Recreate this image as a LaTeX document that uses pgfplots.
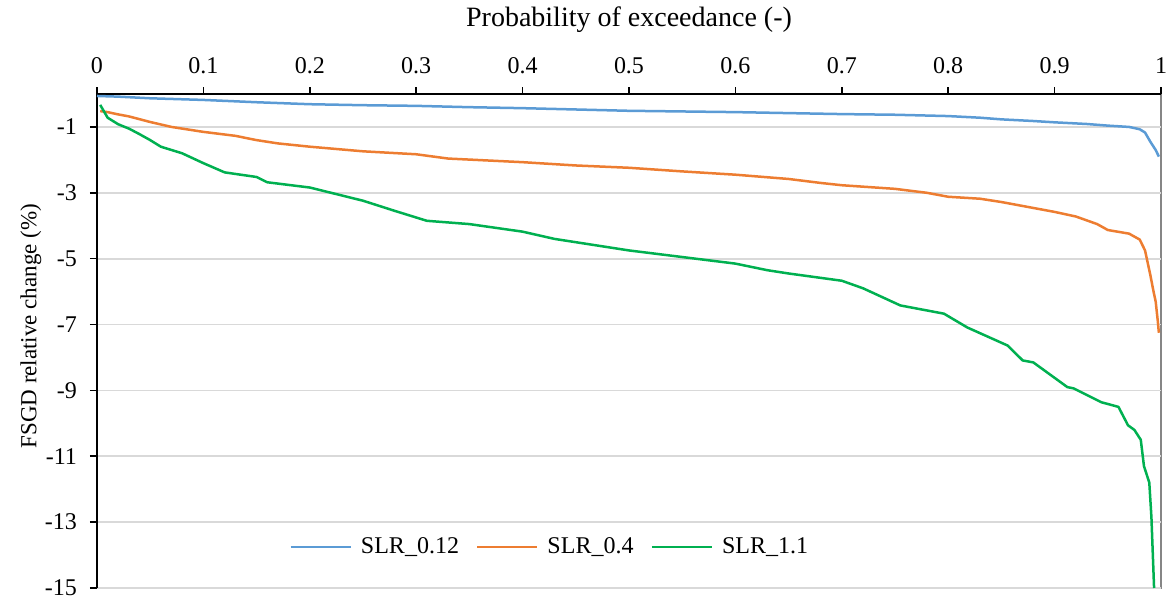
\documentclass[border=0pt]{standalone}
\usepackage{fontspec}
\setmainfont{Liberation Serif}
\usepackage{pgfplots}
\pgfplotsset{compat=1.18}

\definecolor{slrblue}{RGB}{91,155,213}
\definecolor{slrorange}{RGB}{237,125,49}
\definecolor{slrgreen}{RGB}{0,176,80}
\definecolor{gridgray}{RGB}{217,217,217}
\definecolor{framegray}{RGB}{134,134,134}

\begin{document}
\begin{tikzpicture}
% right and bottom edges of the plot area
\draw[framegray, line width=0.9pt] (532pt,247pt) -- (532pt,0pt) -- (0pt,0pt);
\begin{axis}[
  at={(0pt,0pt)}, anchor=south west,
  scale only axis, width=532pt, height=247pt,
  xmin=0, xmax=1, ymin=-15, ymax=0,
  axis x line*=top, axis y line*=left,
  x axis line style={-, black, line width=0.8pt},
  y axis line style={-, black, line width=0.8pt},
  xtick={0,0.1,0.2,0.3,0.4,0.5,0.6,0.7,0.8,0.9,1},
  xticklabels={0,0.1,0.2,0.3,0.4,0.5,0.6,0.7,0.8,0.9,1},
  ytick={-1,-3,-5,-7,-9,-11,-13,-15},
  yticklabels={-1,-3,-5,-7,-9,-11,-13,-15},
  tick align=outside,
  major tick length=3.5pt,
  tick style={black, line width=0.8pt},
  ymajorgrids, grid style={gridgray, line width=0.9pt},
  tick label style={font=\fontsize{12}{14}\selectfont},
  xticklabel style={yshift=3pt},
  yticklabel style={anchor=east, xshift=-3pt},
  xlabel={Probability of exceedance (-)},
  ylabel={FSGD relative change (\%)},
  every axis x label/.style={at={(axis description cs:0.5,1)}, anchor=center,
    yshift=37pt, font=\fontsize{14}{16}\selectfont},
  every axis y label/.style={at={([xshift=-33pt]axis description cs:0,0.53)},
    rotate=90, anchor=center, font=\fontsize{11.5}{14}\selectfont},
  legend style={at={(0.426,0.083)}, anchor=center, draw=none, fill=none,
    font=\fontsize{12}{14}\selectfont, nodes={inner sep=1.5pt}},
  legend columns=3,
  legend cell align=left,
  /tikz/every odd column/.append style={column sep=3pt},
  /tikz/every even column/.append style={column sep=7pt},
  legend image code/.code={\draw[#1] (0pt,0pt) -- (30pt,0pt);},
  every axis plot/.append style={line width=1.25pt, line join=round},
]
\addplot[slrblue] coordinates {
(0.000,-0.06) (0.020,-0.08) (0.050,-0.13) (0.100,-0.18) (0.150,-0.25)
(0.200,-0.31) (0.250,-0.34) (0.300,-0.36) (0.350,-0.40) (0.400,-0.43)
(0.450,-0.47) (0.500,-0.51) (0.550,-0.53) (0.600,-0.55) (0.650,-0.58)
(0.700,-0.61) (0.750,-0.63) (0.800,-0.67) (0.830,-0.72) (0.850,-0.77)
(0.880,-0.82) (0.900,-0.86) (0.930,-0.91) (0.950,-0.96) (0.970,-1.00)
(0.980,-1.07) (0.985,-1.17) (0.990,-1.45) (0.995,-1.70) (0.998,-1.90)
};
\addlegendentry{SLR\_0.12}
\addplot[slrorange] coordinates {
(0.003,-0.52) (0.010,-0.55) (0.020,-0.62) (0.030,-0.68) (0.050,-0.85)
(0.070,-1.00) (0.100,-1.15) (0.130,-1.27) (0.150,-1.40) (0.170,-1.50)
(0.200,-1.60) (0.250,-1.74) (0.300,-1.83) (0.330,-1.96) (0.400,-2.07)
(0.450,-2.17) (0.500,-2.24) (0.550,-2.35) (0.600,-2.45) (0.650,-2.58)
(0.680,-2.70) (0.700,-2.77) (0.750,-2.88) (0.780,-3.00) (0.800,-3.12)
(0.830,-3.18) (0.850,-3.28) (0.880,-3.46) (0.900,-3.58) (0.920,-3.72)
(0.940,-3.95) (0.950,-4.13) (0.970,-4.24) (0.980,-4.42) (0.985,-4.75)
(0.990,-5.50) (0.993,-6.00) (0.995,-6.30) (0.997,-6.90) (0.998,-7.25)
};
\addlegendentry{SLR\_0.4}
\addplot[slrgreen] coordinates {
(0.003,-0.33) (0.010,-0.72) (0.020,-0.92) (0.030,-1.05) (0.040,-1.22)
(0.050,-1.40) (0.060,-1.60) (0.080,-1.80) (0.100,-2.10) (0.120,-2.38)
(0.150,-2.52) (0.160,-2.68) (0.200,-2.84) (0.220,-3.00) (0.250,-3.24)
(0.280,-3.55) (0.310,-3.85) (0.350,-3.95) (0.400,-4.18) (0.430,-4.40)
(0.500,-4.75) (0.550,-4.95) (0.600,-5.15) (0.630,-5.35) (0.650,-5.45)
(0.700,-5.67) (0.720,-5.90) (0.755,-6.42) (0.796,-6.67) (0.818,-7.09)
(0.856,-7.64) (0.870,-8.09) (0.880,-8.15) (0.912,-8.90) (0.918,-8.94)
(0.944,-9.36) (0.960,-9.50) (0.969,-10.06) (0.975,-10.20) (0.981,-10.50)
(0.984,-11.30) (0.989,-11.80) (0.991,-12.85) (0.9935,-15.00)
};
\addlegendentry{SLR\_1.1}
\end{axis}
\pgfresetboundingbox
\useasboundingbox (-48.5pt,-6.5pt) rectangle (536pt,294pt);
\end{tikzpicture}
\end{document}
